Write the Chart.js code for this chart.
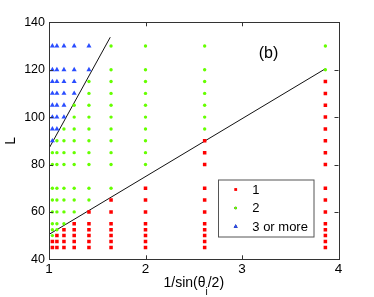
<!DOCTYPE html>
<html lang="en">
<head>
<meta charset="UTF-8">
<title>L vs 1/sin(theta_i/2)</title>
<script src="https://cdn.jsdelivr.net/npm/chart.js"></script>
<style>
  html, body { margin: 0; padding: 0; background: #fff; }
  #wrap { width: 374px; height: 297px; }
</style>
</head>
<body>
<div id="wrap"><canvas id="chart" width="374" height="297"></canvas></div>
<script>
// columns: 1/sin(theta_i/2)
const xCols = [1.035, 1.082, 1.155, 1.261, 1.414, 1.643, 2, 2.613, 3.864];
// L values sampled in each column
const lLevels = [45, 47.5, 50, 52.5, 55, 60, 65, 70, 80, 85, 90, 95, 100, 105, 110, 115, 120, 130];
// group of each point, one row per column, one entry per L value (3 = "3 or more")
const groups = [
  [1,1,2,2,2,2,2,2,2,2,3,3,3,3,3,3,3,3],
  [1,1,1,2,2,2,2,2,2,2,2,3,3,3,3,3,3,3],
  [1,1,1,1,2,2,2,2,2,2,2,2,3,3,3,3,3,3],
  [1,1,1,1,1,2,2,2,2,2,2,2,2,2,3,3,3,3],
  [1,1,1,1,1,1,2,2,2,2,2,2,2,2,2,2,3,3],
  [1,1,1,1,1,1,1,2,2,2,2,2,2,2,2,2,2,2],
  [1,1,1,1,1,1,1,1,2,2,2,2,2,2,2,2,2,2],
  [1,1,1,1,1,1,1,1,1,1,1,2,2,2,2,2,2,2],
  [1,1,1,1,1,1,1,1,1,1,1,1,1,1,1,1,2,2]
];
// the two fitted boundary lines
const lowLineX = [1, 3.864];
const lowLineL = [50.5, 120.4];
const highLineX = [1, 1.635];
const highLineL = [86.8, 133.7];

const xTicks = [1, 2, 3, 4];
const yTicks = [40, 60, 80, 100, 120, 140];
const seriesNames = ['1', '2', '3 or more'];

function pointsOf(g) {
  const pts = [];
  xCols.forEach((x, i) => {
    lLevels.forEach((l, j) => {
      if (groups[i][j] === g) pts.push({ x: x, y: l });
    });
  });
  return pts;
}

const FONT = 'Liberation Sans, Arial, sans-serif';

const frame = {
  id: 'frame',
  afterDatasetsDraw(chart) {
    const ctx = chart.ctx, a = chart.chartArea;
    const xs = chart.scales.x, ys = chart.scales.y;
    ctx.save();
    ctx.strokeStyle = '#333';
    ctx.lineWidth = 1;
    ctx.strokeRect(Math.round(a.left) + 0.5, Math.round(a.top) + 0.5,
      Math.round(a.right - a.left), Math.round(a.bottom - a.top));
    ctx.beginPath();
    xTicks.forEach(v => {
      const px = Math.round(xs.getPixelForValue(v)) + 0.5;
      ctx.moveTo(px, a.bottom); ctx.lineTo(px, a.bottom - 4);
      ctx.moveTo(px, a.top); ctx.lineTo(px, a.top + 4);
    });
    yTicks.forEach(v => {
      const py = Math.round(ys.getPixelForValue(v)) + 0.5;
      ctx.moveTo(a.left, py); ctx.lineTo(a.left + 4, py);
      ctx.moveTo(a.right, py); ctx.lineTo(a.right - 4, py);
    });
    ctx.stroke();
    ctx.restore();
  },
  afterDraw(chart) {
    const ctx = chart.ctx, a = chart.chartArea;
    const xs = chart.scales.x, ys = chart.scales.y;
    ctx.save();
    ctx.fillStyle = '#000';

    // panel label
    ctx.font = '16px ' + FONT;
    ctx.textAlign = 'center';
    ctx.textBaseline = 'middle';
    ctx.fillText('(b)', xs.getPixelForValue(3.274), ys.getPixelForValue(127));

    // x title with subscript
    const main1 = '1/sin(\u03b8', sub = 'i', main2 = '/2)';
    ctx.textAlign = 'left';
    ctx.textBaseline = 'alphabetic';
    ctx.font = '14px ' + FONT;
    const w1 = ctx.measureText(main1).width, w3 = ctx.measureText(main2).width;
    ctx.font = '10px ' + FONT;
    const w2 = ctx.measureText(sub).width;
    let x0 = (a.left + a.right) / 2 - (w1 + w2 + w3) / 2;
    const base = 286.5;
    ctx.font = '14px ' + FONT;
    ctx.fillText(main1, x0, base);
    ctx.font = '10px ' + FONT;
    ctx.fillText(sub, x0 + w1, base + 8);
    ctx.font = '14px ' + FONT;
    ctx.fillText(main2, x0 + w1 + w2, base);

    // legend box
    const bx = 218, by = 179.5, bw = 95.5, bh = 57;
    ctx.fillStyle = '#fff';
    ctx.fillRect(bx, by, bw, bh);
    ctx.strokeStyle = '#555';
    ctx.lineWidth = 1;
    ctx.strokeRect(bx + 0.5, by + 0.5, bw, bh);
    const rows = [189.5, 208, 226.5];
    chart.data.datasets.slice(0, 3).forEach((ds, i) => {
      Chart.helpers.drawPoint(ctx, {
        pointStyle: ds.pointStyle, radius: ds.pointRadius * 0.8, rotation: 0,
        borderWidth: 0
      }, 235.7, rows[i]);
      ctx.fillStyle = ds.backgroundColor;
      ctx.fill();
      ctx.fillStyle = '#000';
      ctx.font = '13px ' + FONT;
      ctx.textBaseline = 'middle';
      ctx.textAlign = 'left';
      ctx.fillText(seriesNames[i], 252.3, rows[i] + 0.5);
    });
    ctx.restore();
  }
};

new Chart(document.getElementById('chart'), {
  type: 'scatter',
  data: {
    datasets: [
      { label: seriesNames[0], data: pointsOf(1), pointStyle: 'rect', pointRadius: 2.5,
        backgroundColor: '#ff0000', borderColor: '#ff0000', borderWidth: 0 },
      { label: seriesNames[1], data: pointsOf(2), pointStyle: 'circle', pointRadius: 1.7,
        backgroundColor: '#66ff00', borderColor: '#66ff00', borderWidth: 0 },
      { label: seriesNames[2], data: pointsOf(3), pointStyle: 'triangle', pointRadius: 2.9,
        backgroundColor: '#2a4dff', borderColor: '#2a4dff', borderWidth: 0 },
      { data: lowLineX.map((x, i) => ({ x: x, y: lowLineL[i] })), showLine: true,
        borderColor: '#111', borderWidth: 1, pointRadius: 0 },
      { data: highLineX.map((x, i) => ({ x: x, y: highLineL[i] })), showLine: true,
        borderColor: '#111', borderWidth: 1, pointRadius: 0 }
    ]
  },
  options: {
    responsive: false,
    animation: false,
    devicePixelRatio: 1,
    layout: { padding: { left: 0, right: 35.5, top: 22.3, bottom: 0 } },
    plugins: { legend: { display: false }, tooltip: { enabled: false } },
    scales: {
      x: {
        type: 'linear', min: 1, max: 4,
        grid: { display: false, drawTicks: false },
        border: { display: false },
        afterBuildTicks: s => { s.ticks = xTicks.map(v => ({ value: v })); },
        afterFit: s => { s.height = 37.7; },
        ticks: { color: '#000', padding: 2, font: { family: FONT, size: 13.5 } }
      },
      y: {
        min: 40, max: 140,
        grid: { display: false, drawTicks: false },
        border: { display: false },
        afterBuildTicks: s => { s.ticks = yTicks.map(v => ({ value: v })); },
        afterFit: s => { s.width = 49; },
        title: { display: true, text: 'L', color: '#000', padding: { top: 3, bottom: 0 },
          font: { family: FONT, size: 14 } },
        ticks: { color: '#000', padding: 4, font: { family: FONT, size: 12.5 } }
      }
    }
  },
  plugins: [frame]
});
</script>
</body>
</html>
